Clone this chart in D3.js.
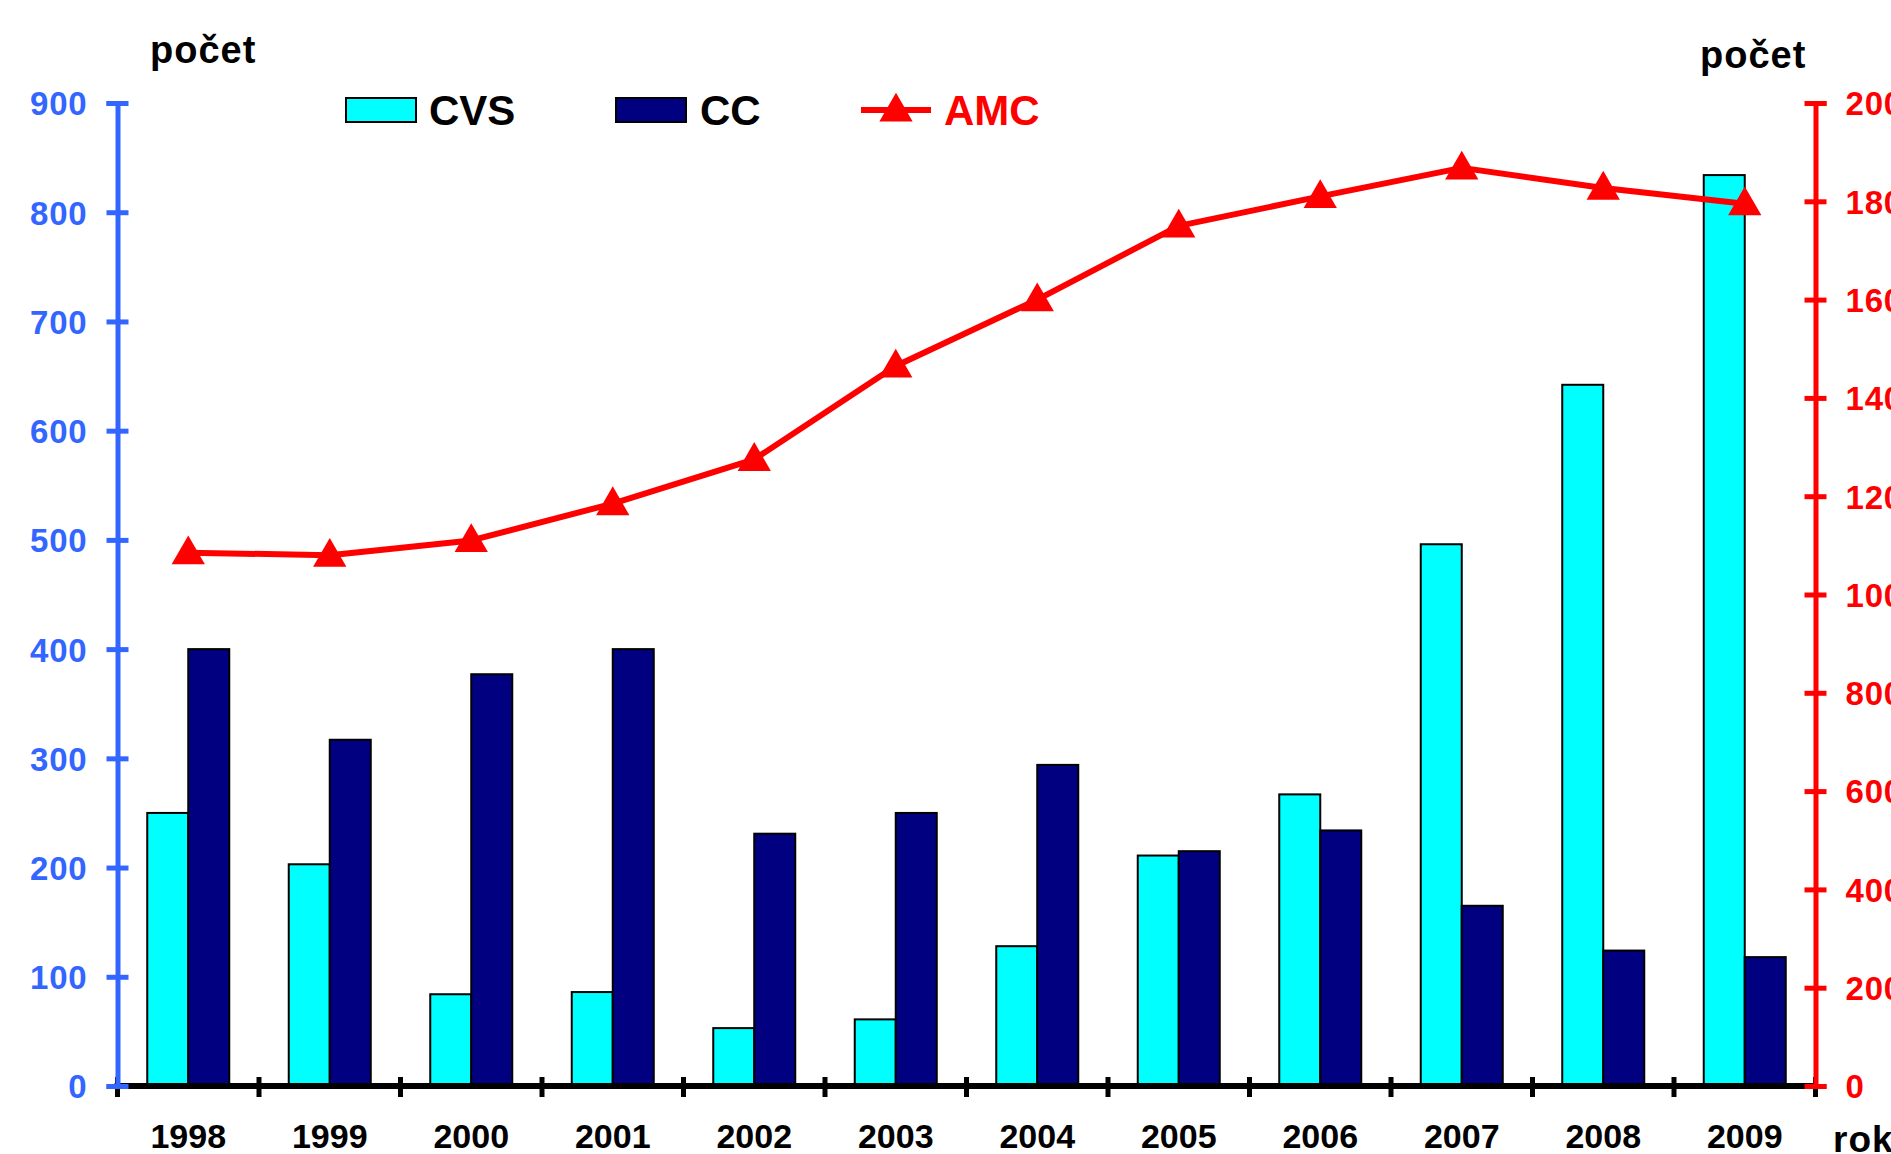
<!DOCTYPE html>
<html>
<head>
<meta charset="utf-8">
<script src="https://d3js.org/d3.v7.min.js"></script>
<style>
  body { margin: 0; background: #fff; overflow: hidden; }
  text { font-family: "Liberation Sans", Arial, sans-serif; font-weight: bold; }
</style>
</head>
<body>
<div id="chart"></div>
<script>
// Data
const years = ["1998","1999","2000","2001","2002","2003","2004","2005","2006","2007","2008","2009"]
const cvs = [250, 203, 84, 86, 53, 61, 128, 211, 267, 496, 642, 834]
const cc = [400, 317, 377, 400, 231, 250, 294, 215, 234, 165, 124, 118]
const amc = [1085, 1080, 1110, 1185, 1275, 1465, 1600, 1750, 1810, 1868, 1827, 1795]
const leftTicks = [0, 100, 200, 300, 400, 500, 600, 700, 800, 900]
const rightTicks = [0, 200, 400, 600, 800, 1000, 1200, 1400, 1600, 1800, 2000]

const blue = "#3366ff"
const red = "#ff0000"

const dimensions = {
  width: 1891,
  height: 1154,
  left: 117.5,
  right: 1815.5,
  top: 103,
  bottom: 1086
}

const svg = d3.select("#chart")
  .append("svg")
  .attr("width", dimensions.width)
  .attr("height", dimensions.height)

// Scales
const xScale = d3.scaleBand()
  .domain(years)
  .range([dimensions.left, dimensions.right])
  .padding(0)

const barW = 41
const subScale = d3.scaleBand()
  .domain(["CVS", "CC"])
  .range([xScale.bandwidth() / 2 - barW, xScale.bandwidth() / 2 + barW])

const yLeft = d3.scaleLinear()
  .domain([0, 900])
  .range([dimensions.bottom, dimensions.top])

const yRight = d3.scaleLinear()
  .domain([0, 2000])
  .range([dimensions.bottom, dimensions.top])

// Bars
const series = [
  { key: "CVS", values: cvs, fill: "#00ffff" },
  { key: "CC", values: cc, fill: "#000080" }
]

series.forEach(s => {
  svg.append("g")
    .selectAll("rect")
    .data(s.values)
    .join("rect")
    .attr("x", (d, i) => xScale(years[i]) + subScale(s.key))
    .attr("width", subScale.bandwidth())
    .attr("y", d => yLeft(d))
    .attr("height", d => yLeft(0) - yLeft(d))
    .attr("fill", s.fill)
    .attr("stroke", "#000")
    .attr("stroke-width", 2)
})

// X axis
const xAxis = svg.append("g")
xAxis.append("line")
  .attr("x1", dimensions.left - 3)
  .attr("x2", dimensions.right)
  .attr("y1", dimensions.bottom)
  .attr("y2", dimensions.bottom)
  .attr("stroke", "#000")
  .attr("stroke-width", 6)

xAxis.selectAll(".xtick")
  .data(d3.range(years.length + 1))
  .join("line")
  .attr("x1", i => dimensions.left + i * xScale.step())
  .attr("x2", i => dimensions.left + i * xScale.step())
  .attr("y1", dimensions.bottom - 9)
  .attr("y2", dimensions.bottom + 11)
  .attr("stroke", "#000")
  .attr("stroke-width", 5)

xAxis.selectAll(".xlabel")
  .data(years)
  .join("text")
  .attr("x", d => xScale(d) + xScale.bandwidth() / 2)
  .attr("y", 1148)
  .attr("text-anchor", "middle")
  .attr("font-size", 34)
  .attr("fill", "#000")
  .text(d => d)

// Left axis
const leftAxis = svg.append("g")
  .attr("transform", `translate(${dimensions.left},0)`)
  .call(d3.axisLeft(yLeft).tickValues(leftTicks).tickFormat(d3.format("d")).tickSizeOuter(0).tickSize(11).tickPadding(0))

leftAxis.select(".domain").attr("stroke", blue).attr("stroke-width", 5)
leftAxis.selectAll(".tick line")
  .attr("x1", -11).attr("x2", 11)
  .attr("stroke", blue).attr("stroke-width", 5)
leftAxis.selectAll(".tick text")
  .attr("x", -30)
  .attr("dy", "0.36em")
  .attr("font-size", 33)
  .attr("letter-spacing", 0.8)
  .attr("font-family", "'Liberation Sans', Arial, sans-serif")
  .attr("font-weight", "bold")
  .attr("fill", blue)

// Right axis
const rightAxis = svg.append("g")
  .attr("transform", `translate(${dimensions.right},0)`)
  .call(d3.axisRight(yRight).tickValues(rightTicks).tickFormat(d3.format("d")).tickSizeOuter(0).tickSize(11).tickPadding(0))

rightAxis.select(".domain").attr("stroke", red).attr("stroke-width", 5)
rightAxis.selectAll(".tick line")
  .attr("x1", -11).attr("x2", 11)
  .attr("stroke", red).attr("stroke-width", 5)
rightAxis.selectAll(".tick text")
  .attr("x", 30)
  .attr("dy", "0.36em")
  .attr("font-size", 33)
  .attr("letter-spacing", 0.8)
  .attr("font-family", "'Liberation Sans', Arial, sans-serif")
  .attr("font-weight", "bold")
  .attr("fill", red)

// AMC line
const line = d3.line()
  .x((d, i) => xScale(years[i]) + xScale.bandwidth() / 2)
  .y(d => yRight(d))

svg.append("path")
  .datum(amc)
  .attr("d", line)
  .attr("fill", "none")
  .attr("stroke", red)
  .attr("stroke-width", 6)
  .attr("stroke-linejoin", "round")

const tri = d3.symbol(d3.symbolTriangle, 480)

svg.append("g")
  .selectAll("path")
  .data(amc)
  .join("path")
  .attr("transform", (d, i) => `translate(${xScale(years[i]) + xScale.bandwidth() / 2},${yRight(d) + 2})`)
  .attr("d", tri)
  .attr("fill", red)

// Axis titles
svg.append("text")
  .attr("x", 150).attr("y", 63)
  .attr("font-size", 38)
  .attr("letter-spacing", 1)
  .text("počet")

svg.append("text")
  .attr("x", 1700).attr("y", 68)
  .attr("font-size", 38)
  .attr("letter-spacing", 1)
  .text("počet")

svg.append("text")
  .attr("x", 1833).attr("y", 1152)
  .attr("font-size", 37)
  .attr("letter-spacing", 1)
  .text("rok")

// Legend
const legend = svg.append("g")

legend.append("rect")
  .attr("x", 346).attr("y", 98).attr("width", 70).attr("height", 24)
  .attr("fill", "#00ffff").attr("stroke", "#000").attr("stroke-width", 2)
legend.append("text")
  .attr("x", 429).attr("y", 125).attr("font-size", 42).text("CVS")

legend.append("rect")
  .attr("x", 616).attr("y", 98).attr("width", 70).attr("height", 24)
  .attr("fill", "#000080").attr("stroke", "#000").attr("stroke-width", 2)
legend.append("text")
  .attr("x", 700).attr("y", 125).attr("font-size", 42).text("CC")

legend.append("line")
  .attr("x1", 861).attr("x2", 931).attr("y1", 110).attr("y2", 110)
  .attr("stroke", red).attr("stroke-width", 6)
legend.append("path")
  .attr("transform", "translate(896,112)")
  .attr("d", tri)
  .attr("fill", red)
legend.append("text")
  .attr("x", 944).attr("y", 125).attr("font-size", 42).attr("fill", red).text("AMC")
</script>
</body>
</html>
